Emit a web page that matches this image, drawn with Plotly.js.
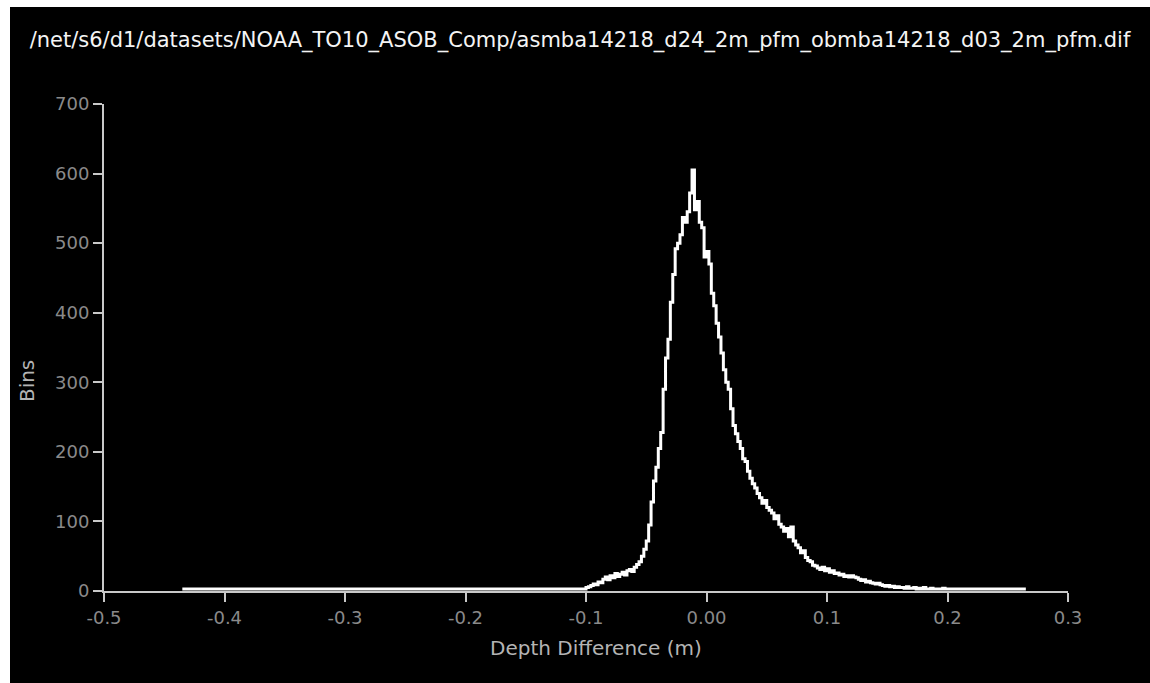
<!DOCTYPE html>
<html>
<head>
<meta charset="utf-8">
<script src="https://cdn.plot.ly/plotly-3.0.1.min.js"></script>
<style>
  html, body { margin: 0; padding: 0; background: #ffffff; }
  #chart { position: absolute; left: 10px; top: 7px; width: 1140px; height: 676px; }
</style>
</head>
<body>
<div id="chart"></div>
<script>
// ---- data ----
const chartTitle = "/net/s6/d1/datasets/NOAA_TO10_ASOB_Comp/asmba14218_d24_2m_pfm_obmba14218_d03_2m_pfm.dif";
const xAxisTitle = "Depth Difference (m)";
const yAxisTitle = "Bins";

// flat low-count stretch on the left
const flatLeftX = [-0.435];
const flatLeftY = [3];

// histogram counts, bins of 0.002 m starting at -0.100 m
const binStart = -0.100;
const binWidth = 0.002;
const counts = [
  5, 6, 8, 10, 9, 13, 12, 17, 20, 16,
  22, 19, 25, 21, 24, 27, 23, 29, 31, 28,
  34, 38, 42, 50, 60, 72, 95, 128, 158, 178,
  205, 228, 290, 335, 362, 415, 455, 492, 500, 512,
  537, 530, 545, 572, 605, 548, 560, 530, 522, 480,
  488, 470, 428, 410, 385, 365, 342, 318, 300, 290,
  262, 238, 226, 215, 205, 190, 186, 172, 162, 154,
  148, 140, 134, 126, 130, 120, 116, 112, 104, 108,
  96, 92, 86, 90, 78, 92, 72, 66, 62, 55,
  58, 48, 44, 42, 37, 36, 33, 31, 34, 29,
  32, 27, 29, 25, 26, 23, 24, 21, 22, 20,
  22, 20, 19, 17, 15, 16, 13, 14, 12, 11,
  10, 11, 9, 8, 7, 8, 6, 7, 5, 6,
  5, 5, 4, 6, 4, 4, 5, 3, 4, 3,
  5, 3, 3, 4, 3, 3, 3, 3, 4, 3
];
// flat low-count stretch on the right, ends here
const flatRightX = [0.265];
const flatRightY = [3];

const xTickVals = [-0.5, -0.4, -0.3, -0.2, -0.1, 0.0, 0.1, 0.2, 0.3];
const xTickText = ["-0.5", "-0.4", "-0.3", "-0.2", "-0.1", "0.00", "0.1", "0.2", "0.3"];
const yTickVals = [0, 100, 200, 300, 400, 500, 600, 700];

// ---- build trace ----
const binX = counts.map((c, i) => +(binStart + i * binWidth).toFixed(4));
const xs = flatLeftX.concat(binX, flatRightX);
const ys = flatLeftY.concat(counts, flatRightY);

const trace = {
  type: "scatter",
  mode: "lines",
  x: xs,
  y: ys,
  line: { color: "#ffffff", width: 3, shape: "hv" },
  hoverinfo: "x+y"
};

const FONT = "DejaVu Sans, Verdana, sans-serif";
const axisCommon = {
  showgrid: false,
  zeroline: false,
  showline: true,
  linecolor: "#c8c8c8",
  linewidth: 2,
  ticks: "outside",
  ticklen: 9,
  tickwidth: 2,
  tickcolor: "#c8c8c8",
  tickfont: { family: FONT, size: 18, color: "#8a8a8a" }
};

const layout = {
  paper_bgcolor: "#000000",
  plot_bgcolor: "#000000",
  margin: { l: 94, r: 82, t: 97, b: 92 },
  showlegend: false,
  title: {
    text: chartTitle,
    font: { family: FONT, size: 21, color: "#f4f4f4" },
    x: 0.5, xref: "container", xanchor: "center",
    y: 0.951, yref: "container", yanchor: "middle"
  },
  xaxis: Object.assign({}, axisCommon, {
    range: [-0.5, 0.3],
    tickmode: "array",
    tickvals: xTickVals,
    ticktext: xTickText
  }),
  yaxis: Object.assign({}, axisCommon, {
    range: [0, 700],
    tickmode: "array",
    tickvals: yTickVals
  }),
  annotations: [
    {
      text: xAxisTitle, xref: "paper", yref: "paper",
      x: 0.5104, y: -0.117, xanchor: "center", yanchor: "middle",
      showarrow: false,
      font: { family: FONT, size: 20, color: "#b4b4b4" }
    },
    {
      text: yAxisTitle, xref: "paper", yref: "paper",
      x: -0.0799, y: 0.431, xanchor: "center", yanchor: "middle",
      textangle: -90, showarrow: false,
      font: { family: FONT, size: 20, color: "#b4b4b4" }
    }
  ]
};

Plotly.newPlot("chart", [trace], layout, { displayModeBar: false, staticPlot: true });
</script>
</body>
</html>
